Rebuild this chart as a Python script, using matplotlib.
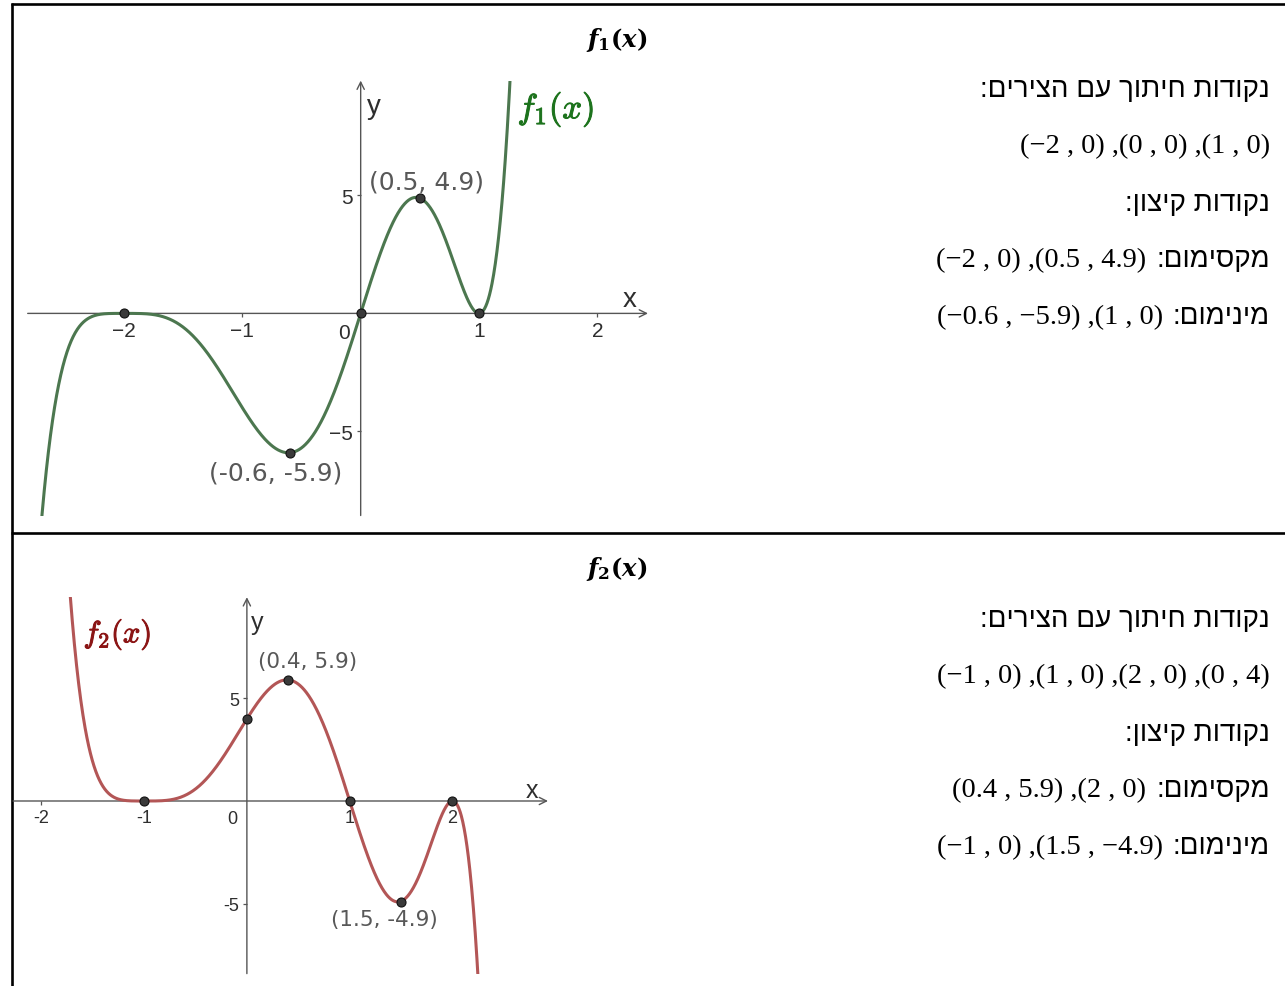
import numpy as np
import matplotlib
matplotlib.use("Agg")
import matplotlib.pyplot as plt
import matplotlib.patheffects as pe

# ---- data -------------------------------------------------------------
# f1(x) = x (x+2)^4 (x-1)^2, f2(x) = -(x+1)^4 (x-1) (x-2)^2
F1_ROOTS = [-2, 0, 1]
F1_MULT = [4, 1, 2]
F1_LEAD = 1
F2_ROOTS = [-1, 1, 2]
F2_MULT = [4, 1, 2]
F2_LEAD = -1

# points as listed in the (right-to-left) Hebrew text
F1_INTERSECT = [(1, 0), (0, 0), (-2, 0)]
F1_MAXIMA = [(0.5, 4.9), (-2, 0)]
F1_MINIMA = [(1, 0), (-0.6, -5.9)]
F2_INTERSECT = [(0, 4), (2, 0), (1, 0), (-1, 0)]
F2_MAXIMA = [(2, 0), (0.4, 5.9)]
F2_MINIMA = [(1.5, -4.9), (-1, 0)]

# labelled extreme points on each graph
F1_LABELLED = [(0.5, 4.9), (-0.6, -5.9)]
F2_LABELLED = [(0.4, 5.9), (1.5, -4.9)]

X_TICKS = [-2, -1, 1, 2]
Y_TICKS = [-5, 5]

HEB_INTERSECT = "נקודות חיתוך עם הצירים:"
HEB_EXTREMA = "נקודות קיצון:"
HEB_MAX = "מקסימום:"
HEB_MIN = "מינימום:"

# ---- style ------------------------------------------------------------
W, H = 1285, 987
AXIS_C = "#555555"
LABEL_C = "#2e2e2e"
NOTE_C = "#585858"
F1_C = "#4c774f"
F2_C = "#b35656"
HEB_FONT = ["Liberation Sans", "DejaVu Sans"]
NUM_FONT = ["Liberation Serif", "DejaVu Serif"]
AX_FONT = ["Liberation Sans", "DejaVu Sans"]

plt.rcParams["mathtext.fontset"] = "custom"
plt.rcParams["mathtext.it"] = "DejaVu Serif:italic:bold"
plt.rcParams["mathtext.rm"] = "DejaVu Serif:bold"
plt.rcParams["mathtext.bf"] = "DejaVu Serif:bold"


def poly_of(roots, mult, lead):
    return lead * np.poly(np.repeat(roots, mult))


def fmt_num(v):
    s = f"{v:g}"
    return s.replace("-", "\u2212")


def fmt_point(p):
    return f"({fmt_num(p[0])} , {fmt_num(p[1])})"


def visual_points(points):
    # rendered left to right, so the last listed point comes first
    return " ,".join(fmt_point(p) for p in reversed(points))


def heb(s):
    return s[::-1]


def px_rect(x0, x1, y0, y1):
    return [x0 / W, 1 - y1 / H, (x1 - x0) / W, (y1 - y0) / H]


fig = plt.figure(figsize=(W / 100, H / 100), dpi=100)
bg = fig.add_axes([0, 0, 1, 1])
bg.set_xlim(0, W)
bg.set_ylim(H, 0)
bg.axis("off")

# table frame
bg.plot([11, W], [5, 5], color="black", lw=1.9, solid_capstyle="butt")
bg.plot([11, W], [533.5, 533.5], color="black", lw=1.9, solid_capstyle="butt")
bg.plot([11.5, 11.5], [4, H], color="black", lw=1.9, solid_capstyle="butt")


def draw_graph(rect, xlim, ylim, coeffs, color, dots, labelled, note_off,
               tick_size, note_size, minus, name, name_xy, name_color,
               name_size, xy_lbl, zero_xy):
    ax = fig.add_axes(rect)
    ax.set_xlim(*xlim)
    ax.set_ylim(*ylim)
    ax.patch.set_alpha(0)
    for side in ("top", "right", "left", "bottom"):
        ax.spines[side].set_visible(False)
    ax.spines["left"].set_position(("data", 0))
    ax.spines["bottom"].set_position(("data", 0))

    arrow = dict(arrowstyle="->", color=AXIS_C, lw=1.0, shrinkA=0, shrinkB=0,
                 mutation_scale=13)
    ax.annotate("", xy=(xlim[1], 0), xytext=(xlim[0], 0), arrowprops=arrow)
    ax.annotate("", xy=(0, ylim[1]), xytext=(0, ylim[0]), arrowprops=arrow)

    ax.set_xticks(X_TICKS)
    ax.set_yticks(Y_TICKS)
    ax.set_xticklabels([f"{t}".replace("-", minus) for t in X_TICKS],
                       family=AX_FONT)
    ax.set_yticklabels([f"{t}".replace("-", minus) for t in Y_TICKS],
                       family=AX_FONT)
    ax.tick_params(length=3, width=0.9, color=AXIS_C, labelsize=tick_size,
                   labelcolor=LABEL_C, pad=2.5)
    ax.text(*zero_xy, "0", ha="center", va="center", fontsize=tick_size,
            color=LABEL_C, family=AX_FONT)
    ax.text(*xy_lbl[0], "x", fontsize=tick_size + 5, color=LABEL_C,
            ha="center", va="center", family=AX_FONT)
    ax.text(*xy_lbl[1], "y", fontsize=tick_size + 5, color=LABEL_C,
            ha="center", va="center", family=AX_FONT)

    xs = np.linspace(xlim[0], xlim[1], 1500)
    ax.plot(xs, np.polyval(coeffs, xs), color=color, lw=2.2, zorder=3)

    px, py = zip(*dots)
    ax.plot(px, py, "o", ms=6.5, mfc="#3a3a3a", mec="#111111", mew=0.8,
            zorder=4)
    for (x, y), (dx, dy) in zip(labelled, note_off):
        ax.text(x + dx, y + dy, f"({x:g}, {y:g})", fontsize=note_size,
                color=NOTE_C, ha="center", va="center")
    ax.text(*name_xy, name, fontsize=name_size, color=name_color,
            math_fontfamily="cm", ha="center", va="center",
            path_effects=[pe.withStroke(linewidth=0.7, foreground=name_color)])
    return ax


# top graph: 118.3 px per x unit, 23.6 px per y unit
draw_graph(px_rect(27.7, 648, 81.6, 516.5), (-2.815, 2.429), (-8.56, 9.86),
           poly_of(F1_ROOTS, F1_MULT, F1_LEAD), F1_C,
           F1_INTERSECT + F1_LABELLED, F1_LABELLED,
           [(0.06, 0.7), (-0.12, -0.85)], 15, 18, "\u2212",
           r"$f_1(x)$", (1.65, 8.65), "#1d731d", 25,
           [(2.27, 0.6), (0.11, 8.8)], (-0.14, -0.8))

# bottom graph: 102.8 px per x unit, 20.5 px per y unit
draw_graph(px_rect(13, 548, 598.2, 974.6), (-2.275, 2.929), (-8.41, 9.93),
           poly_of(F2_ROOTS, F2_MULT, F2_LEAD), F2_C,
           F2_INTERSECT + F2_LABELLED, F2_LABELLED,
           [(0.19, 0.9), (-0.16, -0.85)], 13, 15.5, "-",
           r"$f_2(x)$", (-1.26, 8.1), "#8b1515", 22,
           [(2.77, 0.55), (0.1, 8.7)], (-0.14, -0.85))

# titles
bg.text(617, 40, r"$f_1(x)$", fontsize=17.5, ha="center", va="center")
bg.text(617, 569, r"$f_2(x)$", fontsize=17.5, ha="center", va="center")


def text_block(top_y, intersect, maxima, minima):
    step = 56.8
    xr = 1270
    rows = []
    bg.text(xr, top_y, heb(HEB_INTERSECT), ha="right", va="center",
            fontsize=20, family=HEB_FONT)
    bg.text(xr, top_y + step, visual_points(intersect), ha="right",
            va="center", fontsize=20.5, family=NUM_FONT)
    bg.text(xr, top_y + 2 * step, heb(HEB_EXTREMA), ha="right",
            va="center", fontsize=20, family=HEB_FONT)
    for i, (word, pts) in enumerate([(HEB_MAX, maxima), (HEB_MIN, minima)]):
        y = top_y + (3 + i) * step
        rows.append((bg.text(xr, y, heb(word), ha="right", va="center",
                             fontsize=20, family=HEB_FONT), pts, y))
    return rows


blocks = [text_block(90, F1_INTERSECT, F1_MAXIMA, F1_MINIMA),
          text_block(620, F2_INTERSECT, F2_MAXIMA, F2_MINIMA)]

fig.canvas.draw()
renderer = fig.canvas.get_renderer()
for rows in blocks:
    for lbl, pts, y in rows:
        x0 = lbl.get_window_extent(renderer).x0
        bg.text(x0 - 10, y, visual_points(pts), ha="right", va="center",
                fontsize=20.5, family=NUM_FONT)

fig.savefig("out.png", dpi=100)
